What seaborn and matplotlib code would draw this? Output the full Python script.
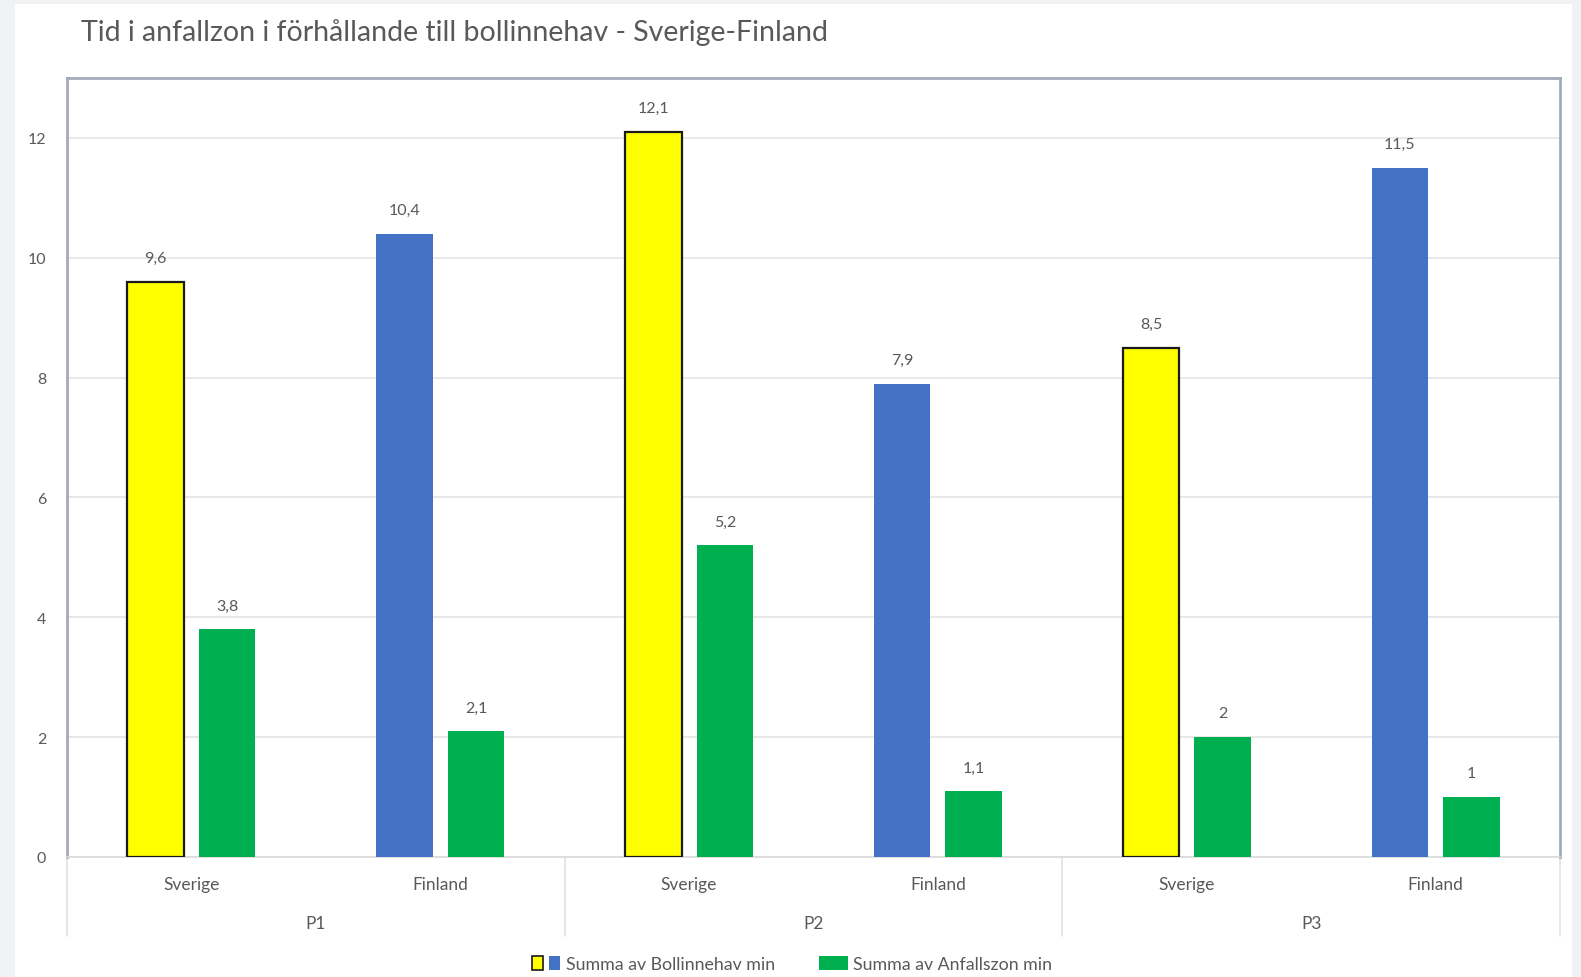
import numpy as np
import pandas as pd
import matplotlib.pyplot as plt
import seaborn as sns
from matplotlib.patches import Patch, Rectangle
from matplotlib.legend_handler import HandlerTuple

PERIODS     = ["P1", "P1", "P2", "P2", "P3", "P3"]
TEAMS       = ["Sverige", "Finland", "Sverige", "Finland", "Sverige", "Finland"]
BOLLINNEHAV = [9.6, 10.4, 12.1, 7.9, 8.5, 11.5]
ANFALLSZON  = [3.8, 2.1, 5.2, 1.1, 2, 1]
SERIES      = ["Summa av Bollinnehav min", "Summa av Anfallszon min"]
TITLE       = "Tid i anfallzon i förhållande till bollinnehav - Sverige-Finland"

YELLOW, BLUE, GREEN = "#FFFF00", "#4472C4", "#00B050"
TXT = "#595959"

slots = [f"{p}-{t}" for p, t in zip(PERIODS, TEAMS)]
df = pd.DataFrame({
    "slot": slots * 2,
    "serie": [SERIES[0]] * 6 + [SERIES[1]] * 6,
    "min": BOLLINNEHAV + ANFALLSZON,
})

sns.set_style("white")
plt.rcParams["font.family"] = ["Lato", "DejaVu Sans"]

fig = plt.figure(figsize=(15.81, 9.78), dpi=100)
fig.patch.set_facecolor("#F1F2F4")
fig.add_artist(Rectangle((15 / 1581, 0), (1572 - 15) / 1581, 1 - 5 / 978,
                         transform=fig.transFigure, facecolor="white",
                         edgecolor="none", zorder=0))
ax = fig.add_axes([67 / 1581, 120 / 978, (1560 - 67) / 1581, (858 - 79) / 978])
ax.set_facecolor("white")

sns.barplot(data=df, x="slot", y="min", hue="serie", order=slots,
            hue_order=SERIES, palette=[BLUE, GREEN], saturation=1,
            width=0.575, gap=0.21, legend=False, ax=ax, zorder=3)

# bars: first 6 = Bollinnehav, next 6 = Anfallszon
bars = ax.patches
for i, bar in enumerate(bars[:6]):
    if TEAMS[i] == "Sverige":
        bar.set_facecolor(YELLOW)
        bar.set_edgecolor("#1a1a1a")
        bar.set_linewidth(1.6)
    else:
        bar.set_edgecolor("none")
for bar in bars[6:12]:
    bar.set_edgecolor("none")

def fmt(v):
    s = f"{v:.1f}".replace(".", ",")
    return s[:-2] if s.endswith(",0") else s

for bar, v in zip(bars[:12], BOLLINNEHAV + ANFALLSZON):
    ax.annotate(fmt(v), (bar.get_x() + bar.get_width() / 2, bar.get_height()),
                xytext=(0, 12), textcoords="offset points", ha="center",
                va="bottom", fontsize=11.5, color=TXT)

ax.set_ylim(0, 13)
ax.set_xlim(-0.5, 5.5)
ax.set_yticks(range(0, 13, 2))
ax.yaxis.grid(True, color="#E4E4E4", linewidth=1.2, zorder=0)
ax.tick_params(axis="y", length=0, pad=15, labelsize=11.5, labelcolor=TXT)
ax.set_xticks(range(6))
ax.set_xticklabels(TEAMS, fontsize=12.5, color=TXT)
ax.tick_params(axis="x", length=0, pad=14)
ax.set_xlabel("")
ax.set_ylabel("")

for side in ["left", "top", "right"]:
    ax.spines[side].set_color("#A3AAB8")
    ax.spines[side].set_linewidth(2)
ax.spines["bottom"].set_color("#DADADA")
ax.spines["bottom"].set_linewidth(1.2)

# group separators and period labels below the axis
trans = ax.get_xaxis_transform()
for x in [-0.5, 1.5, 3.5, 5.5]:
    ax.plot([x, x], [0, -0.102], transform=trans, color="#E2E2E2",
            linewidth=1.2, clip_on=False)
for k, p in enumerate(["P1", "P2", "P3"]):
    ax.text(2 * k + 0.5, -0.085, p, transform=trans, ha="center", va="center",
            fontsize=12.5, color=TXT)

fig.text(81 / 1581, 1 - 33 / 978, TITLE, ha="left", va="center",
         fontsize=20.5, color=TXT)

handles = [(Patch(facecolor=YELLOW, edgecolor="#1a1a1a", linewidth=1.2),
            Patch(facecolor=BLUE, edgecolor="none")),
           Patch(facecolor=GREEN, edgecolor="none")]
fig.legend(handles, SERIES, loc="center", bbox_to_anchor=(792 / 1581, 1 - 965 / 978),
           ncol=2, frameon=False, fontsize=12.8, labelcolor=TXT,
           handler_map={tuple: HandlerTuple(ndivide=None, pad=0.3)},
           handlelength=1.6, handleheight=0.8, handletextpad=0.3, columnspacing=2.5)

fig.savefig("out.png", dpi=100, facecolor=fig.get_facecolor())
